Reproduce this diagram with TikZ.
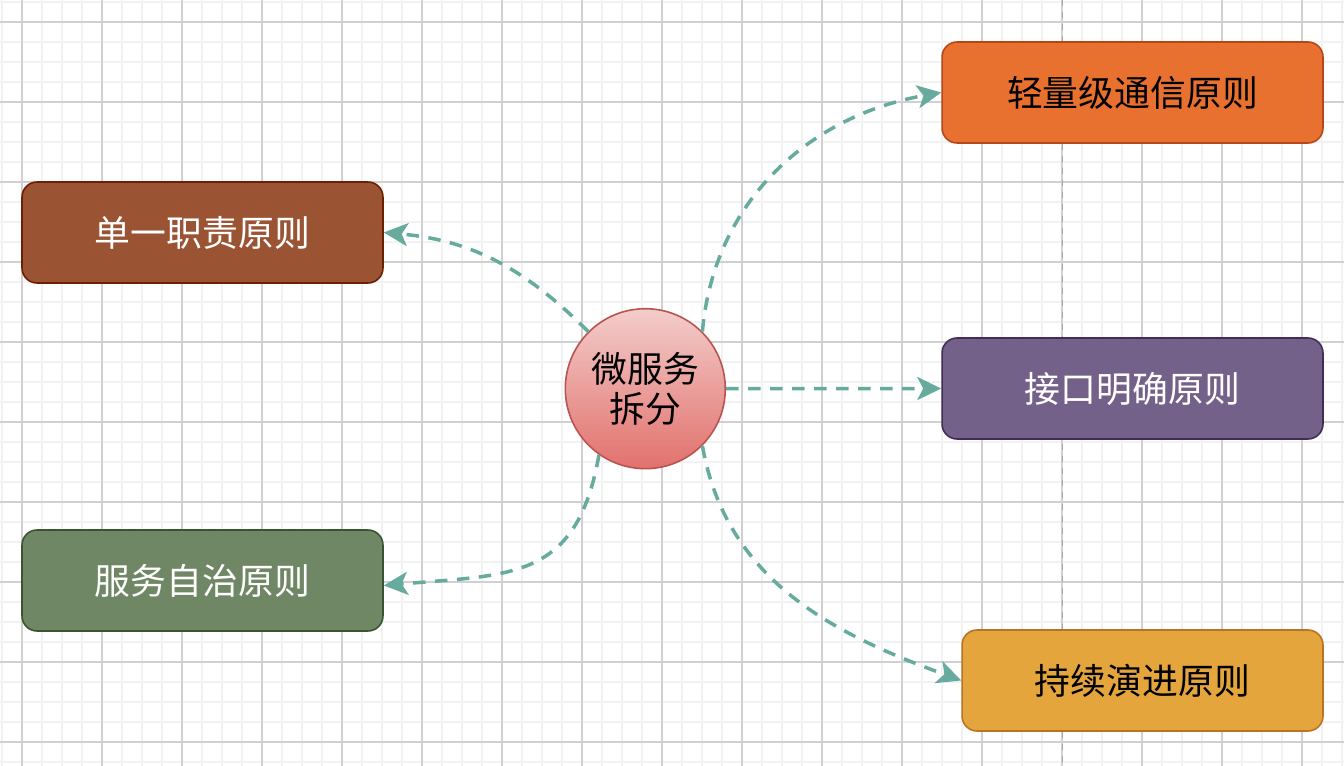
\documentclass[tikz,border=0pt]{standalone}
\usepackage{fontspec}
\setmainfont{Noto Sans CJK SC}
\usepackage{xcolor}
\usetikzlibrary{
    arrows.meta,
    positioning,
    shapes.geometric
}
\definecolor{linkgreen}{HTML}{67AB9F}
\definecolor{gridminor}{HTML}{F2F2F2}
\definecolor{gridmajor}{HTML}{D0D0D0}
\definecolor{pagegray}{HTML}{A8A8A8}
\definecolor{brownfill}{HTML}{9A5434}
\definecolor{brownline}{HTML}{6D1F00}
\definecolor{greenfill}{HTML}{6F8764}
\definecolor{greenline}{HTML}{3A5431}
\definecolor{purplefill}{HTML}{74618A}
\definecolor{purpleline}{HTML}{432D57}
\definecolor{orangefill}{HTML}{E8712F}
\definecolor{orangeline}{HTML}{B7451A}
\definecolor{yellowfill}{HTML}{E3A53C}
\definecolor{yellowline}{HTML}{B87326}
\definecolor{hubtop}{HTML}{F3CDCB}
\definecolor{hubbottom}{HTML}{E2716C}
\definecolor{hubline}{HTML}{B85450}

\begin{document}
\begin{tikzpicture}[
        x=0.02cm, y=0.02cm,
        rule/.style={draw, rounded corners=0.3cm, line width=0.9pt, minimum width=7.22cm, minimum height=2.02cm, inner sep=0pt, font=\fontsize{20.4pt}{24pt}\selectfont},
        hub/.style={circle, draw=hubline, line width=0.9pt, top color=hubtop, bottom color=hubbottom, minimum size=3.2cm, inner sep=0pt, align=center, font=\fontsize{20.4pt}{22.7pt}\selectfont},
        link/.style={draw=linkgreen, line width=2pt, dash pattern=on 0.25cm off 0.19cm, -{Stealth[length=0.48cm, width=0.46cm, inset=0.12cm]}}
    ]
        \useasboundingbox (0,0) rectangle (1344,-766);
        \fill[white] (0,0) rectangle (1344,-766);

        % Grid
        \foreach \gx in {2,22,...,1342} \draw[gridminor, line width=1pt] (\gx,0) -- (\gx,-766);
        \foreach \gy in {2,22,...,762} \draw[gridminor, line width=1pt] (0,-\gy) -- (1344,-\gy);
        \foreach \gx in {22,102,...,1302} \draw[gridmajor, line width=0.6pt] (\gx,0) -- (\gx,-766);
        \foreach \gy in {22,102,...,742} \draw[gridmajor, line width=0.6pt] (0,-\gy) -- (1344,-\gy);

        % Page break
        \draw[pagegray, line width=1.1pt, dash pattern=on 0.13cm off 0.11cm] (1062.5,0) -- (1062.5,-766);

        % Centre
        \node[hub] (hub) at (645.3,-388.7) {微服务\\拆分};

        % Principles
        \node[rule, fill=brownfill, draw=brownline, text=white] (single) at (202.5,-232.5) {单一职责原则};
        \node[rule, fill=greenfill, draw=greenline, text=white] (auto) at (202.5,-580.5) {服务自治原则};
        \node[rule, fill=orangefill, draw=orangeline, minimum width=7.62cm] (light) at (1132.5,-92.5) {轻量级通信原则};
        \node[rule, fill=purplefill, draw=purpleline, text=white, minimum width=7.62cm] (iface) at (1132.5,-388.5) {接口明确原则};
        \node[rule, fill=yellowfill, draw=yellowline] (evolve) at (1142.5,-680.5) {持续演进原则};

        % Links
        \draw[link] (hub.135) to[out=135, in=-5] (single.east);
        \draw[link] (hub.45) to[out=85, in=190] (light.west);
        \draw[link] (hub.east) -- (iface.west);
        \draw[link] (hub.235) to[out=-100, in=5, looseness=1.3] ([yshift=-0.1cm]auto.east);
        \draw[link] (hub.-45) to[out=-80, in=160] (evolve.west);
    \end{tikzpicture}
\end{document}
